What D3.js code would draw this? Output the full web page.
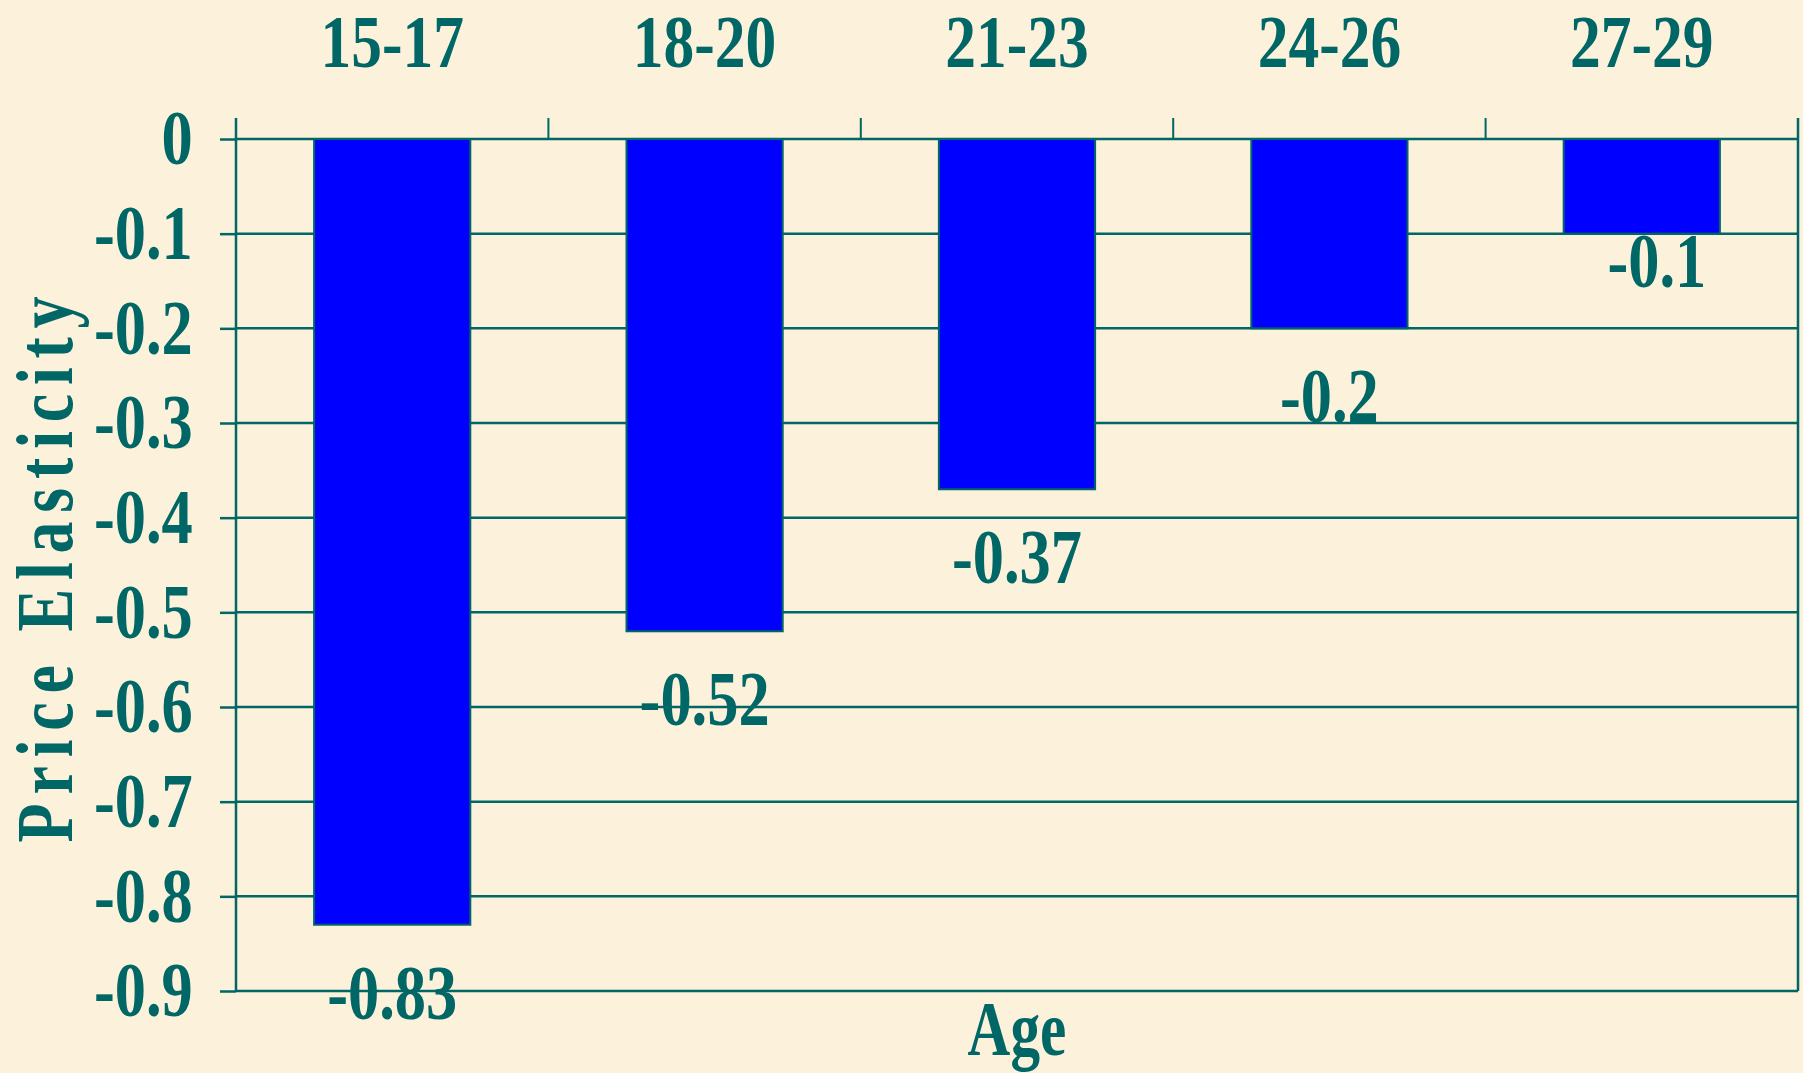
<!DOCTYPE html>
<html>
   <head>
      <title>Price Elasticity by Age</title>
      <style media="screen">
         body {
         margin: 0;
         background: #fcf1da;
         }
         .bar {
         fill: #0000ff;
         stroke: #006666;
         stroke-width: 2;
         }
         .label {
         fill: #006666;
         font-family: "Liberation Serif", "Times New Roman", serif;
         font-weight: bold;
         font-size: 78px;
         }
      </style>
      <script type="text/javascript" src="https://d3js.org/d3.v7.min.js"></script>
   </head>
   <body>
      <script>
         // data
         var categories = ["15-17", "18-20", "21-23", "24-26", "27-29"];
         var elasticity = [-0.83, -0.52, -0.37, -0.2, -0.1];
         var yTicks = [0, -0.1, -0.2, -0.3, -0.4, -0.5, -0.6, -0.7, -0.8, -0.9];

         // page and plot size
         var w = 1803;
         var h = 1073;
         var left = 236;
         var right = 1798;
         var top0 = 139;
         var bottom = 991;
         var teal = "#006666";
         var squeeze = 0.8;   // the original font is a condensed serif

         var svg = d3.select("body")
                     .append("svg")
                     .attr("width", w)
                     .attr("height", h);

         // parchment background
         var defs = svg.append("defs");
         var paper = defs.append("filter")
            .attr("id", "paper")
            .attr("x", 0).attr("y", 0).attr("width", "100%").attr("height", "100%");
         paper.append("feTurbulence")
            .attr("type", "fractalNoise")
            .attr("baseFrequency", 0.012)
            .attr("numOctaves", 3)
            .attr("seed", 4);
         paper.append("feColorMatrix")
            .attr("values", "0 0 0 0 0.96  0 0 0 0 0.88  0 0 0 0 0.70  0 0 0 0.45 -0.1");
         svg.append("rect")
            .attr("width", w)
            .attr("height", h)
            .attr("fill", "#fcf1da");
         svg.append("rect")
            .attr("width", w)
            .attr("height", h)
            .attr("filter", "url(#paper)");

         // scales
         var x = d3.scaleBand()
                   .domain(categories)
                   .range([left, right])
                   .paddingInner(0.5)
                   .paddingOuter(0.25);
         var y = d3.scaleLinear()
                   .domain([0, -0.9])
                   .range([top0, bottom]);

         // horizontal gridlines
         svg.append("g")
            .selectAll("line")
            .data(yTicks)
            .enter()
            .append("line")
            .attr("x1", left)
            .attr("x2", right)
            .attr("y1", function(d) { return y(d); })
            .attr("y2", function(d) { return y(d); })
            .attr("stroke", teal)
            .attr("stroke-width", 2.5);

         // category boundary ticks above the zero line
         var bounds = categories.map(function(c) { return x(c) - x.step() * 0.25; });
         bounds.push(right);
         svg.append("g")
            .selectAll("line")
            .data(bounds)
            .enter()
            .append("line")
            .attr("x1", function(d) { return d; })
            .attr("x2", function(d) { return d; })
            .attr("y1", top0 - 21)
            .attr("y2", top0)
            .attr("stroke", teal)
            .attr("stroke-width", 2);

         // right border of the plot
         svg.append("line")
            .attr("x1", right).attr("x2", right)
            .attr("y1", top0 - 21).attr("y2", bottom)
            .attr("stroke", teal)
            .attr("stroke-width", 2.5);

         // bars
         svg.selectAll("rect.bar")
            .data(elasticity)
            .enter()
            .append("rect")
            .attr("class", "bar")
            .attr("x", function(d, i) { return x(categories[i]); })
            .attr("y", y(0))
            .attr("width", x.bandwidth())
            .attr("height", function(d) { return y(d) - y(0); });

         // y axis
         var yAxis = svg.append("g")
            .attr("transform", "translate(" + left + ",0)")
            .call(d3.axisLeft(y)
                    .tickValues(yTicks)
                    .tickFormat(function(d) { return String(d); })
                    .tickSize(16)
                    .tickSizeOuter(0)
                    .tickPadding(38));
         yAxis.select(".domain")
            .attr("stroke", teal)
            .attr("stroke-width", 2.5)
            .attr("d", "M0," + (top0 - 21) + "V" + bottom);
         yAxis.selectAll(".tick line")
            .attr("stroke", teal)
            .attr("stroke-width", 2.5);
         yAxis.selectAll(".tick text")
            .attr("class", "label")
            .attr("font-family", null)
            .attr("font-size", null)
            .attr("fill", null)
            .attr("transform", "scale(" + squeeze + ",1)");

         // category labels along the top
         var xAxis = svg.append("g")
            .attr("transform", "translate(0," + top0 + ")")
            .call(d3.axisTop(x)
                    .tickSize(0)
                    .tickPadding(72));
         xAxis.select(".domain").remove();
         xAxis.selectAll(".tick text")
            .attr("class", "label")
            .attr("font-family", null)
            .attr("font-size", null)
            .attr("fill", null)
            .style("font-size", "75px")
            .attr("transform", "scale(0.82,1)");

         // value labels under the bars, the last one was moved by hand in the original
         var nudge = { "27-29": [15, -41] };
         svg.selectAll("text.value")
            .data(elasticity)
            .enter()
            .append("text")
            .attr("class", "label value")
            .attr("text-anchor", "middle")
            .attr("transform", function(d, i) {
               var c = categories[i];
               var n = nudge[c] || [0, 0];
               var cx = x(c) + x.bandwidth() / 2 + n[0];
               var cy = y(d) + 94 + n[1];
               return "translate(" + cx + "," + cy + ") scale(" + squeeze + ",1)";
            })
            .text(function(d) { return String(d); });

         // x axis title
         svg.append("text")
            .attr("class", "label")
            .attr("text-anchor", "middle")
            .attr("transform", "translate(" + ((left + right) / 2) + ",1055) scale(0.76,1)")
            .text("Age");

         // y axis title, letter spaced
         svg.append("text")
            .attr("class", "label")
            .attr("text-anchor", "middle")
            .style("font-size", "80px")
            .style("letter-spacing", "11px")
            .attr("transform", "translate(72," + ((top0 + bottom) / 2) + ") rotate(-90) scale(" + squeeze + ",1)")
            .text("Price Elasticity");
      </script>
   </body>
</html>
